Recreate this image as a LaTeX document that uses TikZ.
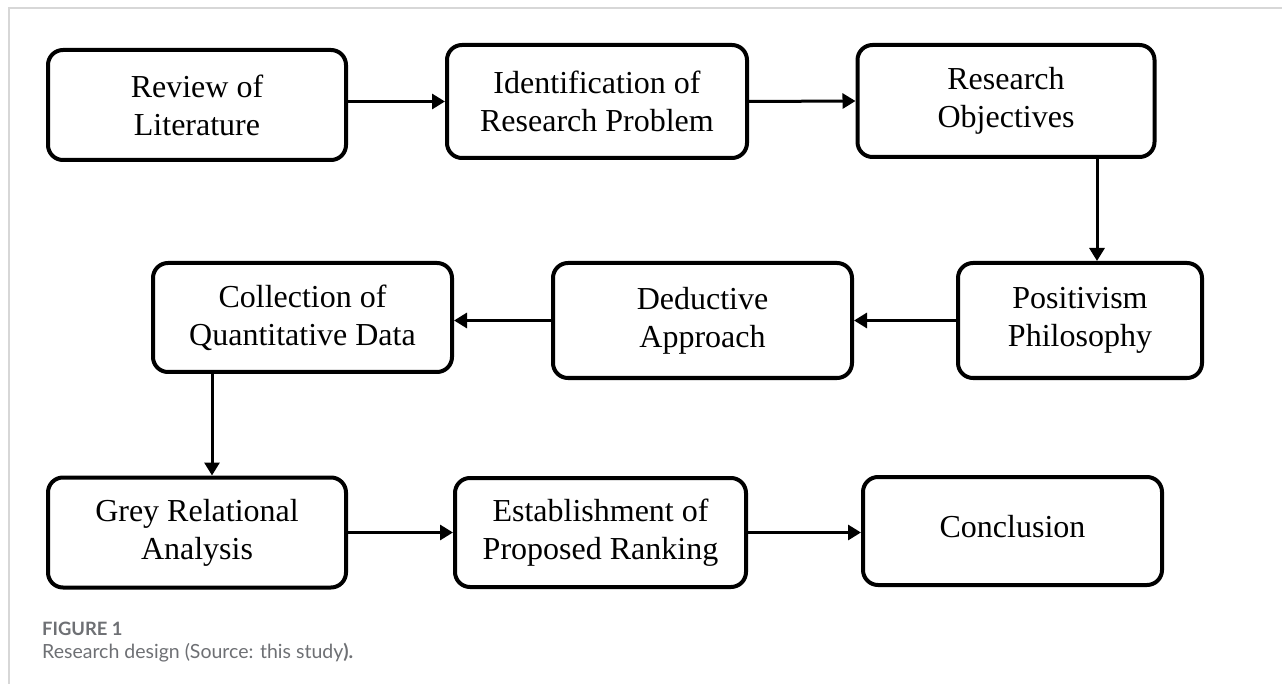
\documentclass[tikz,border=0pt]{standalone}
\usepackage{fontspec}
\setmainfont{Liberation Serif}
\newfontfamily\capfont{Lato}
\usepackage{tikz}
\usetikzlibrary{positioning}
\usetikzlibrary{calc}
\usetikzlibrary{arrows.meta}
\pgfdeclarelayer{nodelayer}
\pgfdeclarelayer{edgelayer}
\pgfsetlayers{edgelayer,nodelayer,main}
\definecolor{capgray}{RGB}{110,112,116}
\definecolor{framegray}{RGB}{215,215,215}
\tikzset{box/.style={shape=rectangle, rounded corners=15pt, line width=4pt, draw=black, fill=white,
inner sep=0pt, align=center, minimum height=110pt, minimum width=298pt,
font=\fontsize{32}{38}\selectfont, anchor=center}}
\tikzset{arr/.style={line width=3pt, -{Triangle[length=13pt,width=15pt]}}}
\tikzstyle{captxt}=[inner sep=0pt, anchor=base west, text=capgray]

\begin{document}
\begin{tikzpicture}[x=1pt,y=-1pt]
	\useasboundingbox (0,0) rectangle (1282,684);
	\draw [framegray, line width=1.5pt] (9,684) -- (9,8) -- (1282,8);
	\begin{pgfonlayer}{nodelayer}
		\node [style=box] (1) at (197, 105) {Review of\\Literature};
		\node [style=box, minimum height=113pt, minimum width=300pt] (2) at (597, 101.5) {Identification of\\Research Problem};
		\node [style=box, minimum height=112pt, minimum width=297pt] (3) at (1006, 101) {Research\\Objectives};
		\node [style=box, minimum height=109pt, minimum width=299pt] (4) at (302.5, 317.5) {Collection of\\Quantitative Data};
		\node [style=box, minimum height=115pt, minimum width=299pt] (5) at (702.5, 320.5) {Deductive\\Approach};
		\node [style=box, minimum height=115pt, minimum width=244pt] (6) at (1080, 320.5) {Positivism\\Philosophy};
		\node [style=box, minimum height=110pt] (7) at (197, 532.5) {Grey Relational\\Analysis};
		\node [style=box, minimum height=109pt, minimum width=291pt] (8) at (600.5, 532.5) {Establishment of\\Proposed Ranking};
		\node [style=box, minimum height=108pt, minimum width=299pt] (9) at (1012.5, 531) {\raisebox{10pt}{Conclusion}};
		\node [style=captxt, font=\capfont\bfseries\fontsize{18.4}{22}\selectfont] (10) at (42, 635) {FIGURE 1};
		\node [style=captxt, font=\capfont\fontsize{19.5}{22}\selectfont] (11) at (42, 658) {Research design (Source: this study\textbf{).}};
	\end{pgfonlayer}
	\begin{pgfonlayer}{edgelayer}
		\draw [style=arr] (1.east |- 2.west) to (2.west);
		\draw [style=arr] (2.east) to (3.west);
		\draw [style=arr] ([xshift=17pt]6.north |- 3.south) to ([xshift=17pt]6.north);
		\draw [style=arr] (6.west) to (5.east);
		\draw [style=arr] (5.west) to (5.west -| 4.east);
		\draw [style=arr] ([xshift=15pt]7.north |- 4.south) to ([xshift=15pt]7.north);
		\draw [style=arr] (7.east) to (8.west);
		\draw [style=arr] (8.east) to (8.east -| 9.west);
	\end{pgfonlayer}
\end{tikzpicture}
\end{document}
